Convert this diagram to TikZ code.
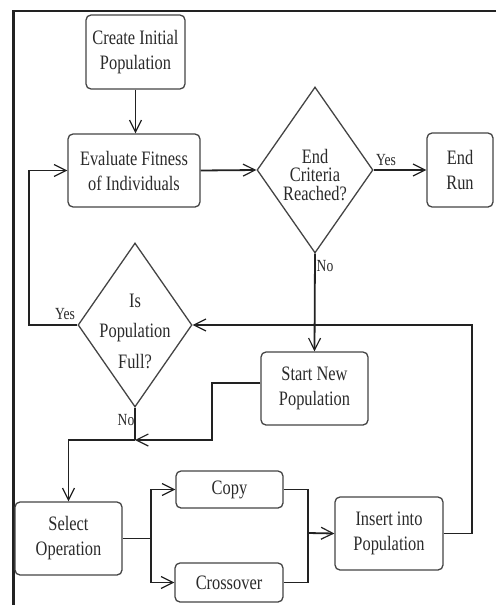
\documentclass[tikz,border=0pt]{standalone}
\usepackage{fontspec}
\setmainfont{Liberation Serif}[FakeStretch=0.8]
\usetikzlibrary{shapes.geometric,arrows.meta}
\definecolor{ink}{HTML}{2a2a2a}
\definecolor{edge}{HTML}{444444}
\definecolor{wire}{HTML}{222222}

\begin{document}
\begin{tikzpicture}[x=1pt,y=-1pt,
  every node/.style={text=ink, font=\fontsize{20.5}{25}\selectfont},
  procbox/.style={draw=edge, line width=1.3pt, rounded corners=5pt, inner sep=0pt, align=center},
  decision/.style={diamond, draw=edge, line width=1.3pt, inner sep=0pt},
  dtext/.style={align=center, inner sep=0pt},
  link/.style={draw=wire, line width=1.8pt},
  flow/.style={link, -{Straight Barb[length=12pt,width=12pt,line width=1.2pt]}},
  tag/.style={font=\fontsize{17}{18}\selectfont, inner sep=1pt}]

\useasboundingbox (0,0) rectangle (496,605);

% page frame (top and left edges only)
\draw[wire, line width=2.5pt] (496,11) -- (12,11);
\draw[wire, line width=3pt] (13.5,11) -- (13.5,605);

% process boxes
\node[procbox, minimum width=99pt, minimum height=74pt] (create) at (135.5,52) {Create Initial\\Population};
\node[procbox, minimum width=132pt, minimum height=73pt] (evaluate) at (134,170.5) {Evaluate Fitness\\of Individuals};
\node[procbox, minimum width=66pt, minimum height=74pt] (endrun) at (460,170) {End\\Run};
\node[procbox, minimum width=107pt, minimum height=73pt] (startnew) at (314.5,388.5) {Start New\\Population};
\node[procbox, minimum width=107pt, minimum height=73pt] (select) at (68.5,538.5) {Select\\Operation};
\node[procbox, minimum width=107pt, minimum height=37pt] (copy) at (229.5,489.5) {Copy};
\node[procbox, minimum width=108pt, minimum height=39pt] (crossover) at (229,582.5) {Crossover};
\node[procbox, minimum width=108pt, minimum height=73pt] (insert) at (389,533.5) {Insert into\\Population};

% decisions
\node[decision, minimum width=116pt, minimum height=166pt] (endcrit) at (315,170) {};
\node[dtext, font=\fontsize{20.5}{18.5}\selectfont] (endcrittext) at (315,175) {End\\Criteria\\Reached?};
\node[decision, minimum width=114pt, minimum height=164pt] (isfull) at (135,325) {};
\node[dtext, font=\fontsize{20.5}{30.5}\selectfont] (isfulltext) at (135,331) {Is\\Population\\Full?};

% branch labels
\node[tag] (yes1) at (386,160) {Yes};
\node[tag] (no1) at (325,266) {No};
\node[tag] (yes2) at (65,314) {Yes};
\node[tag] (no2) at (126,420) {No};

% connectors
\coordinate (join) at (135,440);
\coordinate (merge) at (308,533);

\draw[flow] (create.south) -- (create.south |- evaluate.north);
\draw[flow] (evaluate.east) -- (endcrit.west);
\draw[flow] (endcrit.east) -- (endrun.west);
\draw[flow] (endcrit.south) -- (startnew.north);
\draw[flow] (isfull.west) -- ++(-48,0) |- (evaluate.west);
\draw[flow] (insert.east) -- ++(28,0) |- (isfull.east);
\draw[flow] ([yshift=5.5pt]startnew.west) -- ++(-48,0) -- ++(0,57) -- (join);
\draw[link] (isfull.south) -- (join);
\draw[flow] (join) -| (select.north);
\draw[link] (select.east) -- ++(28,0) coordinate (fork);
\draw[flow] (fork) |- (copy.west);
\draw[flow] (fork) |- (crossover.west);
\draw[link] (copy.east) -| (merge) |- (crossover.east);
\draw[flow] (merge) -- (insert.west);
\end{tikzpicture}
\end{document}
